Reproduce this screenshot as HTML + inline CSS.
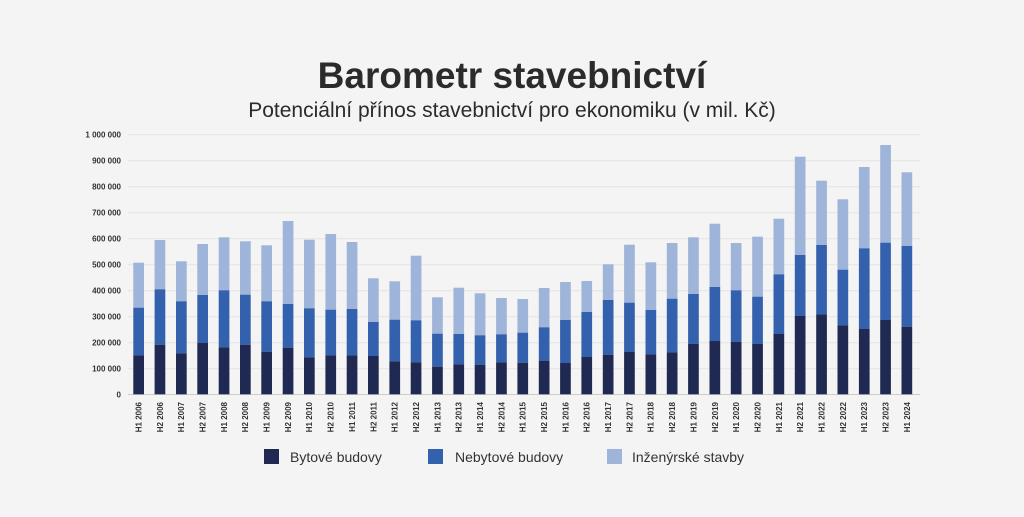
<!DOCTYPE html>
<html><head><meta charset="utf-8"><style>
body{margin:0;background:#f4f4f4;width:1024px;height:512px;overflow:hidden;font-family:"Liberation Sans",sans-serif}
</style></head><body>
<svg width="1024" height="512" viewBox="0 0 1024 512" xmlns="http://www.w3.org/2000/svg" font-family="Liberation Sans, sans-serif">
<rect width="1024" height="512" fill="#f4f4f4"/>
<text x="512" y="88" text-anchor="middle" font-size="37" font-weight="bold" fill="#2b2b2b">Barometr stavebnictví</text>
<text x="512" y="117" text-anchor="middle" font-size="21" fill="#2b2b2b">Potenciální přínos stavebnictví pro ekonomiku (v mil. Kč)</text>
<g stroke="#e4e4e4" stroke-width="1">
<line x1="128" x2="920" y1="134.7" y2="134.7"/><line x1="128" x2="920" y1="160.7" y2="160.7"/><line x1="128" x2="920" y1="186.7" y2="186.7"/><line x1="128" x2="920" y1="212.7" y2="212.7"/><line x1="128" x2="920" y1="238.7" y2="238.7"/><line x1="128" x2="920" y1="264.7" y2="264.7"/><line x1="128" x2="920" y1="290.7" y2="290.7"/><line x1="128" x2="920" y1="316.7" y2="316.7"/><line x1="128" x2="920" y1="342.7" y2="342.7"/><line x1="128" x2="920" y1="368.7" y2="368.7"/>
</g>
<line x1="128" x2="920" y1="394.5" y2="394.5" stroke="#ccc"/>
<g font-size="8" font-weight="bold" fill="#333" text-anchor="end">
<text x="121" y="137.5">1 000 000</text><text x="121" y="163.5">900 000</text><text x="121" y="189.5">800 000</text><text x="121" y="215.5">700 000</text><text x="121" y="241.5">600 000</text><text x="121" y="267.5">500 000</text><text x="121" y="293.5">400 000</text><text x="121" y="319.5">300 000</text><text x="121" y="345.5">200 000</text><text x="121" y="371.5">100 000</text><text x="121" y="397.5">0</text>
</g>
<g fill="#9fb4d9">
<rect x="133.3" y="262.7" width="10.7" height="45"/>
<rect x="154.6" y="240" width="10.7" height="49.3"/>
<rect x="176.0" y="261.3" width="10.7" height="40"/>
<rect x="197.3" y="244" width="10.7" height="51"/>
<rect x="218.7" y="237.3" width="10.7" height="53"/>
<rect x="240.0" y="241.3" width="10.7" height="53.4"/>
<rect x="261.3" y="245.3" width="10.7" height="56"/>
<rect x="282.7" y="221" width="10.7" height="83"/>
<rect x="304.0" y="239.7" width="10.7" height="68.6"/>
<rect x="325.4" y="234" width="10.7" height="75.7"/>
<rect x="346.7" y="242" width="10.7" height="67"/>
<rect x="368.0" y="278.3" width="10.7" height="43.7"/>
<rect x="389.4" y="281.3" width="10.7" height="38.4"/>
<rect x="410.7" y="255.7" width="10.7" height="64.6"/>
<rect x="432.1" y="297.3" width="10.7" height="36.4"/>
<rect x="453.4" y="287.7" width="10.7" height="46.3"/>
<rect x="474.7" y="293.3" width="10.7" height="42"/>
<rect x="496.1" y="298" width="10.7" height="36.3"/>
<rect x="517.4" y="299" width="10.7" height="33.7"/>
<rect x="538.8" y="288" width="10.7" height="39.3"/>
<rect x="560.1" y="282" width="10.7" height="38"/>
<rect x="581.4" y="281" width="10.7" height="31"/>
<rect x="602.8" y="264.3" width="10.7" height="35.7"/>
<rect x="624.1" y="244.7" width="10.7" height="58"/>
<rect x="645.5" y="262.3" width="10.7" height="47.7"/>
<rect x="666.8" y="243" width="10.7" height="55.7"/>
<rect x="688.1" y="237.3" width="10.7" height="56.7"/>
<rect x="709.5" y="223.7" width="10.7" height="63.3"/>
<rect x="730.8" y="243" width="10.7" height="47.3"/>
<rect x="752.2" y="236.7" width="10.7" height="60"/>
<rect x="773.5" y="218.7" width="10.7" height="55.6"/>
<rect x="794.8" y="156.7" width="10.7" height="98.3"/>
<rect x="816.2" y="180.7" width="10.7" height="64.3"/>
<rect x="837.5" y="199.3" width="10.7" height="70.4"/>
<rect x="858.9" y="167" width="10.7" height="81.3"/>
<rect x="880.2" y="145" width="10.7" height="97.7"/>
<rect x="901.5" y="172.3" width="10.7" height="73.7"/>
</g>
<g fill="#3461ae">
<rect x="133.3" y="307.7" width="10.7" height="47.6"/>
<rect x="154.6" y="289.3" width="10.7" height="55.4"/>
<rect x="176.0" y="301.3" width="10.7" height="52"/>
<rect x="197.3" y="295" width="10.7" height="48"/>
<rect x="218.7" y="290.3" width="10.7" height="57"/>
<rect x="240.0" y="294.7" width="10.7" height="50"/>
<rect x="261.3" y="301.3" width="10.7" height="50.4"/>
<rect x="282.7" y="304" width="10.7" height="43.7"/>
<rect x="304.0" y="308.3" width="10.7" height="49"/>
<rect x="325.4" y="309.7" width="10.7" height="45.6"/>
<rect x="346.7" y="309" width="10.7" height="46.3"/>
<rect x="368.0" y="322" width="10.7" height="34"/>
<rect x="389.4" y="319.7" width="10.7" height="41.6"/>
<rect x="410.7" y="320.3" width="10.7" height="42"/>
<rect x="432.1" y="333.7" width="10.7" height="33"/>
<rect x="453.4" y="334" width="10.7" height="30.3"/>
<rect x="474.7" y="335.3" width="10.7" height="29.7"/>
<rect x="496.1" y="334.3" width="10.7" height="28"/>
<rect x="517.4" y="332.7" width="10.7" height="30"/>
<rect x="538.8" y="327.3" width="10.7" height="33.7"/>
<rect x="560.1" y="320" width="10.7" height="43"/>
<rect x="581.4" y="312" width="10.7" height="45"/>
<rect x="602.8" y="300" width="10.7" height="54.7"/>
<rect x="624.1" y="302.7" width="10.7" height="49.3"/>
<rect x="645.5" y="310" width="10.7" height="44.3"/>
<rect x="666.8" y="298.7" width="10.7" height="53.6"/>
<rect x="688.1" y="294" width="10.7" height="49.7"/>
<rect x="709.5" y="287" width="10.7" height="54"/>
<rect x="730.8" y="290.3" width="10.7" height="51.4"/>
<rect x="752.2" y="296.7" width="10.7" height="47"/>
<rect x="773.5" y="274.3" width="10.7" height="59.7"/>
<rect x="794.8" y="255" width="10.7" height="61"/>
<rect x="816.2" y="245" width="10.7" height="69.3"/>
<rect x="837.5" y="269.7" width="10.7" height="55.6"/>
<rect x="858.9" y="248.3" width="10.7" height="80.7"/>
<rect x="880.2" y="242.7" width="10.7" height="77.3"/>
<rect x="901.5" y="246" width="10.7" height="80.7"/>
</g>
<g fill="#1f2952">
<rect x="133.3" y="355.3" width="10.7" height="39"/>
<rect x="154.6" y="344.7" width="10.7" height="49.6"/>
<rect x="176.0" y="353.3" width="10.7" height="41"/>
<rect x="197.3" y="343" width="10.7" height="51.3"/>
<rect x="218.7" y="347.3" width="10.7" height="47"/>
<rect x="240.0" y="344.7" width="10.7" height="49.6"/>
<rect x="261.3" y="351.7" width="10.7" height="42.6"/>
<rect x="282.7" y="347.7" width="10.7" height="46.6"/>
<rect x="304.0" y="357.3" width="10.7" height="37"/>
<rect x="325.4" y="355.3" width="10.7" height="39"/>
<rect x="346.7" y="355.3" width="10.7" height="39"/>
<rect x="368.0" y="356" width="10.7" height="38.3"/>
<rect x="389.4" y="361.3" width="10.7" height="33"/>
<rect x="410.7" y="362.3" width="10.7" height="32"/>
<rect x="432.1" y="366.7" width="10.7" height="27.6"/>
<rect x="453.4" y="364.3" width="10.7" height="30"/>
<rect x="474.7" y="365" width="10.7" height="29.3"/>
<rect x="496.1" y="362.3" width="10.7" height="32"/>
<rect x="517.4" y="362.7" width="10.7" height="31.6"/>
<rect x="538.8" y="361" width="10.7" height="33.3"/>
<rect x="560.1" y="363" width="10.7" height="31.3"/>
<rect x="581.4" y="357" width="10.7" height="37.3"/>
<rect x="602.8" y="354.7" width="10.7" height="39.6"/>
<rect x="624.1" y="352" width="10.7" height="42.3"/>
<rect x="645.5" y="354.3" width="10.7" height="40"/>
<rect x="666.8" y="352.3" width="10.7" height="42"/>
<rect x="688.1" y="343.7" width="10.7" height="50.6"/>
<rect x="709.5" y="341" width="10.7" height="53.3"/>
<rect x="730.8" y="341.7" width="10.7" height="52.6"/>
<rect x="752.2" y="343.7" width="10.7" height="50.6"/>
<rect x="773.5" y="334" width="10.7" height="60.3"/>
<rect x="794.8" y="316" width="10.7" height="78.3"/>
<rect x="816.2" y="314.3" width="10.7" height="80"/>
<rect x="837.5" y="325.3" width="10.7" height="69"/>
<rect x="858.9" y="329" width="10.7" height="65.3"/>
<rect x="880.2" y="320" width="10.7" height="74.3"/>
<rect x="901.5" y="326.7" width="10.7" height="67.6"/>
</g>
<g font-size="8" font-weight="bold" fill="#333" text-anchor="end">
<text transform="translate(141.5,402) rotate(-90)">H1 2006</text>
<text transform="translate(162.8,402) rotate(-90)">H2 2006</text>
<text transform="translate(184.2,402) rotate(-90)">H1 2007</text>
<text transform="translate(205.5,402) rotate(-90)">H2 2007</text>
<text transform="translate(226.9,402) rotate(-90)">H1 2008</text>
<text transform="translate(248.2,402) rotate(-90)">H2 2008</text>
<text transform="translate(269.5,402) rotate(-90)">H1 2009</text>
<text transform="translate(290.9,402) rotate(-90)">H2 2009</text>
<text transform="translate(312.2,402) rotate(-90)">H1 2010</text>
<text transform="translate(333.6,402) rotate(-90)">H2 2010</text>
<text transform="translate(354.9,402) rotate(-90)">H1 2011</text>
<text transform="translate(376.3,402) rotate(-90)">H2 2011</text>
<text transform="translate(397.6,402) rotate(-90)">H1 2012</text>
<text transform="translate(419.0,402) rotate(-90)">H2 2012</text>
<text transform="translate(440.3,402) rotate(-90)">H1 2013</text>
<text transform="translate(461.6,402) rotate(-90)">H2 2013</text>
<text transform="translate(483.0,402) rotate(-90)">H1 2014</text>
<text transform="translate(504.3,402) rotate(-90)">H2 2014</text>
<text transform="translate(525.7,402) rotate(-90)">H1 2015</text>
<text transform="translate(547.0,402) rotate(-90)">H2 2015</text>
<text transform="translate(568.4,402) rotate(-90)">H1 2016</text>
<text transform="translate(589.7,402) rotate(-90)">H2 2016</text>
<text transform="translate(611.0,402) rotate(-90)">H1 2017</text>
<text transform="translate(632.4,402) rotate(-90)">H2 2017</text>
<text transform="translate(653.7,402) rotate(-90)">H1 2018</text>
<text transform="translate(675.1,402) rotate(-90)">H2 2018</text>
<text transform="translate(696.4,402) rotate(-90)">H1 2019</text>
<text transform="translate(717.8,402) rotate(-90)">H2 2019</text>
<text transform="translate(739.1,402) rotate(-90)">H1 2020</text>
<text transform="translate(760.5,402) rotate(-90)">H2 2020</text>
<text transform="translate(781.8,402) rotate(-90)">H1 2021</text>
<text transform="translate(803.1,402) rotate(-90)">H2 2021</text>
<text transform="translate(824.5,402) rotate(-90)">H1 2022</text>
<text transform="translate(845.8,402) rotate(-90)">H2 2022</text>
<text transform="translate(867.2,402) rotate(-90)">H1 2023</text>
<text transform="translate(888.5,402) rotate(-90)">H2 2023</text>
<text transform="translate(909.9,402) rotate(-90)">H1 2024</text>
</g>
<rect x="264" y="449" width="15" height="15" fill="#1f2952"/>
<text x="290" y="462" font-size="14" fill="#333">Bytové budovy</text>
<rect x="428" y="449" width="15" height="15" fill="#3461ae"/>
<text x="455" y="462" font-size="14" fill="#333">Nebytové budovy</text>
<rect x="607" y="449" width="15" height="15" fill="#9fb4d9"/>
<text x="632" y="462" font-size="14" fill="#333">Inženýrské stavby</text>
</svg>
</body></html>
